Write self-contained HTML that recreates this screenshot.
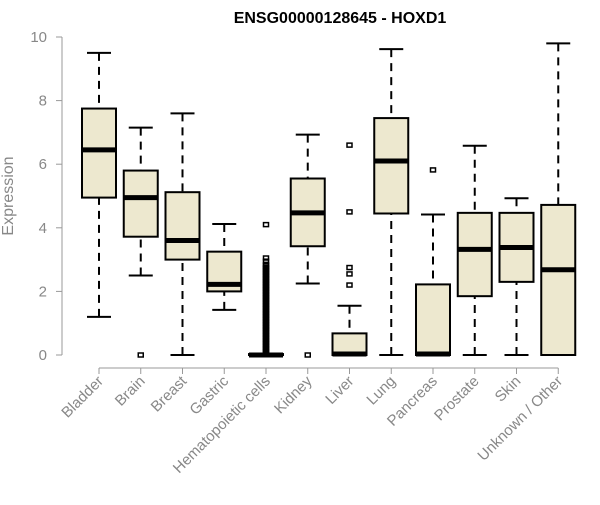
<!DOCTYPE html>
<html><head><meta charset="utf-8"><style>
body{margin:0;background:#fff}
svg text{font-family:"Liberation Sans",Arial,sans-serif}
</style></head><body>
<svg id="chart" width="600" height="500" viewBox="0 0 600 500" xmlns="http://www.w3.org/2000/svg">
<text x="340" y="23" text-anchor="middle" font-size="16" font-weight="bold">ENSG00000128645 - HOXD1</text>
<text transform="translate(13,196) rotate(-90)" text-anchor="middle" font-size="16" fill="#888">Expression</text>
<g id="axes"></g><g id="boxes"></g>
</svg>
<script>
const categories=["Bladder","Brain","Breast","Gastric","Hematopoietic cells","Kidney","Liver","Lung","Pancreas","Prostate","Skin","Unknown / Other"];
const whiskerLow=[1.2,2.5,0,1.42,0,2.25,0,0,0,0,0,0];
const q1=[4.95,3.72,3.0,2.0,0,3.42,0,4.45,0,1.85,2.3,0];
const medians=[6.45,4.95,3.6,2.22,0,4.47,0.03,6.1,0.03,3.32,3.38,2.68];
const q3=[7.75,5.8,5.12,3.25,0.03,5.55,0.68,7.45,2.22,4.47,4.47,4.72];
const whiskerHigh=[9.5,7.15,7.6,4.12,0,6.93,1.55,9.62,4.42,6.58,4.93,9.8];
const outliers=[[],[0],[],[],[0.05,0.1,0.15,0.2,0.25,0.3,0.35,0.4,0.45,0.5,0.55,0.6,0.65,0.7,0.75,0.8,0.85,0.9,0.95,1.0,1.05,1.1,1.15,1.2,1.25,1.3,1.35,1.4,1.45,1.5,1.55,1.6,1.65,1.7,1.75,1.8,1.85,1.9,1.95,2.0,2.05,2.1,2.15,2.2,2.25,2.3,2.35,2.4,2.45,2.5,2.55,2.6,2.65,2.7,2.75,2.8,2.85,2.95,3.05,4.1],[0],[2.2,2.55,2.75,4.5,6.6],[],[5.82],[],[],[]];
const yTicks=[0,2,4,6,8,10];
const NS="http://www.w3.org/2000/svg";
const y=v=>355-v*31.8, x=i=>99+i*41.75;
const ax=document.getElementById('axes'), bx=document.getElementById('boxes');
function mk(p,t,a){const e=document.createElementNS(NS,t);for(const k in a)e.setAttribute(k,a[k]);p.appendChild(e);return e;}
let l=mk(ax,'line',{x1:62,x2:62,y1:y(0),y2:y(10),stroke:'#999'});


l=mk(ax,'line',{x1:x(0),x2:x(11),y1:368,y2:368,stroke:'#999'});


yTicks.forEach(v=>{
 mk(ax,'line',{x1:56,x2:62,y1:y(v),y2:y(v),stroke:'#999'});
 const t=mk(ax,'text',{x:47,y:y(v)+5,'text-anchor':'end','font-size':15,fill:'#888'});t.textContent=v;
 
 
});
categories.forEach((c,i)=>{
 const cx=x(i);
 mk(ax,'line',{x1:cx,x2:cx,y1:368,y2:374,stroke:'#999'});
 const t=mk(ax,'text',{transform:`translate(${cx+5},382) rotate(-45)`,'text-anchor':'end','font-size':15,fill:'#888'});t.textContent=c;
 
 
 const g=mk(bx,'g',{});
 
 
 const hw=17,cap=12;
 mk(g,'line',{x1:cx,x2:cx,y1:y(whiskerLow[i]),y2:y(q1[i]),stroke:'#000','stroke-width':2,'stroke-dasharray':'8,6'});
 mk(g,'line',{x1:cx,x2:cx,y1:y(whiskerHigh[i]),y2:y(q3[i]),stroke:'#000','stroke-width':2,'stroke-dasharray':'8,6'});
 mk(g,'line',{x1:cx-cap,x2:cx+cap,y1:y(whiskerLow[i]),y2:y(whiskerLow[i]),stroke:'#000','stroke-width':2});
 mk(g,'line',{x1:cx-cap,x2:cx+cap,y1:y(whiskerHigh[i]),y2:y(whiskerHigh[i]),stroke:'#000','stroke-width':2});
 mk(g,'rect',{x:cx-hw,y:y(q3[i]),width:2*hw,height:Math.max(y(q1[i])-y(q3[i]),1),fill:'#ede8cf',stroke:'#000','stroke-width':2});
 mk(g,'line',{x1:cx-hw,x2:cx+hw,y1:y(medians[i]),y2:y(medians[i]),stroke:'#000','stroke-width':5});
 outliers[i].forEach(v=>{
  const o=mk(g,'rect',{x:cx-2.5,y:y(v)-2,width:5,height:4,fill:'none',stroke:'#000','stroke-width':1.5});
  
  
 });
});
</script>
</body></html>
